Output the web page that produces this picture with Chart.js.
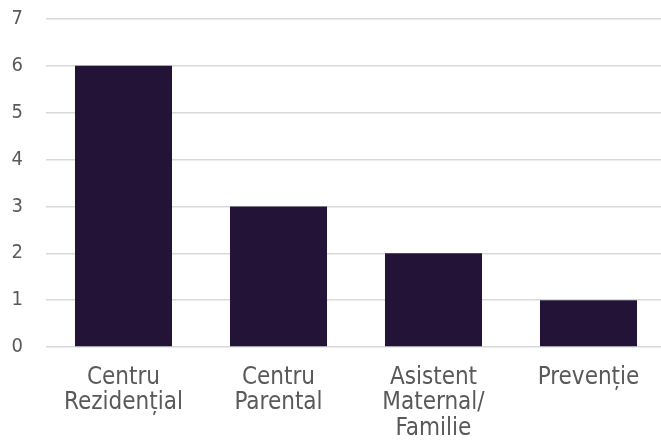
<!DOCTYPE html>
<html>
<head>
<meta charset="utf-8">
<script src="https://cdn.jsdelivr.net/npm/chart.js@4/dist/chart.umd.min.js"></script>
<style>
    html, body { margin: 0; padding: 0; background: #fff; overflow: hidden; }
    #wrap { width: 666px; height: 450px; }
</style>
</head>
<body>
<div id="wrap"><canvas id="chart"></canvas></div>
<script>
    // Chart data
    const categories = [
        ['Centru', 'Rezidențial'],
        ['Centru', 'Parental'],
        ['Asistent', 'Maternal/', 'Familie'],
        ['Prevenție']
    ];
    const values = [6, 3, 2, 1];
    const yTicks = [0, 1, 2, 3, 4, 5, 6, 7];

    const ctx = document.getElementById('chart').getContext('2d');
    new Chart(ctx, {
        type: 'bar',
        data: {
            labels: categories,
            datasets: [{
                label: 'Număr',
                data: values,
                backgroundColor: '#231336',
                categoryPercentage: 0.626,
                barPercentage: 1
            }]
        },
        options: {
            responsive: true,
            maintainAspectRatio: false,
            animation: false,
            layout: { padding: 0 },
            plugins: {
                legend: { display: false },
                tooltip: { enabled: false }
            },
            scales: {
                x: {
                    afterFit: (axis) => { axis.height = 103; },
                    grid: { display: false },
                    border: { display: false },
                    ticks: {
                        color: '#595959',
                        font: { family: 'DejaVu Sans Condensed', size: 24, lineHeight: 1.0625 },
                        maxRotation: 0,
                        autoSkip: false,
                        padding: 10
                    }
                },
                y: {
                    min: yTicks[0],
                    max: yTicks[yTicks.length - 1],
                    afterBuildTicks: (axis) => {
                        axis.ticks = yTicks.map(v => ({ value: v }));
                    },
                    afterFit: (axis) => {
                        axis.width = 46;
                        axis.paddingTop = 19;
                        axis.paddingBottom = 0;
                    },
                    grid: { color: '#d9d9d9', lineWidth: 1.5, drawTicks: false },
                    border: { display: false },
                    ticks: {
                        color: '#595959',
                        font: { family: 'DejaVu Sans Condensed', size: 20 },
                        padding: 23
                    }
                }
            }
        }
    });
</script>
</body>
</html>
